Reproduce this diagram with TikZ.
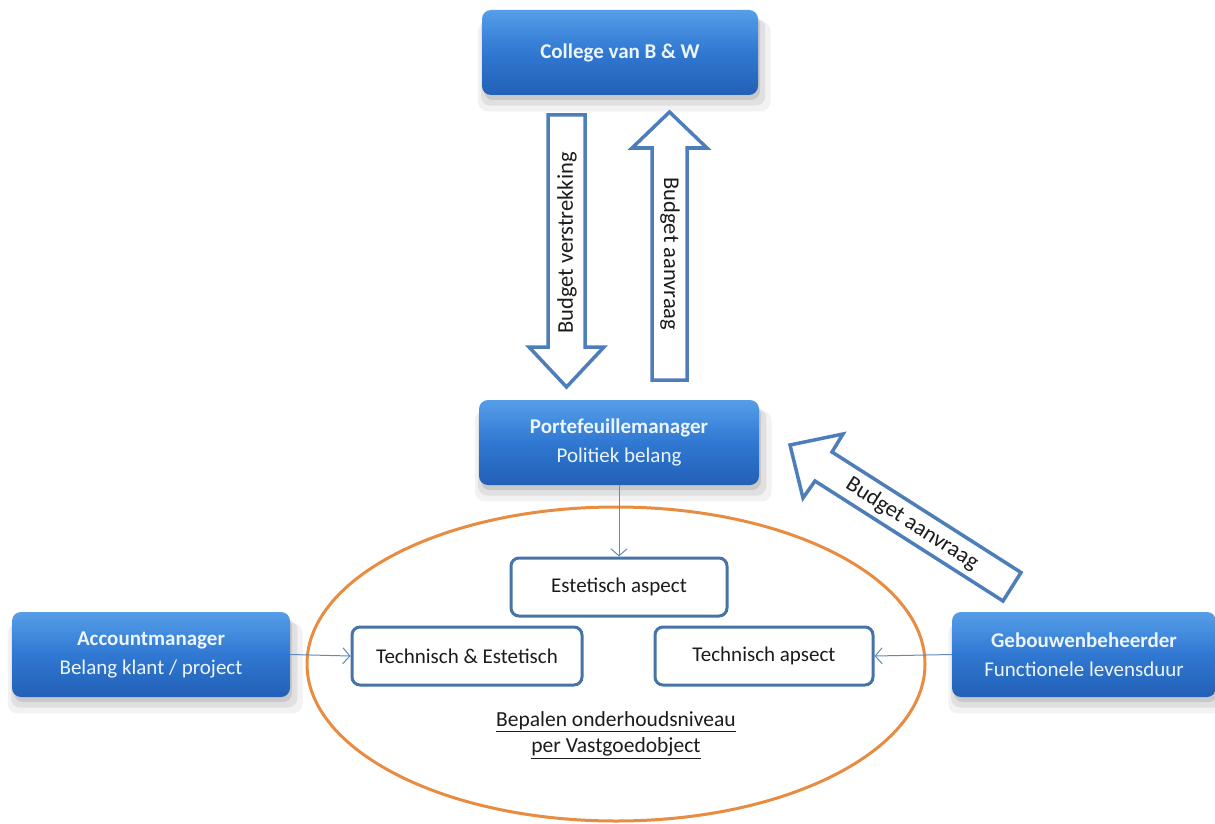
\documentclass[tikz,border=0pt]{standalone}
\usepackage{fontspec}
\setmainfont{Carlito}
\usetikzlibrary{arrows.meta,shadows}
\definecolor{bluetop}{RGB}{86,158,232}
\definecolor{bluemid}{RGB}{48,120,210}
\definecolor{bluebot}{RGB}{34,96,182}
\definecolor{boxline}{RGB}{70,116,166}
\definecolor{arrline}{RGB}{78,126,186}
\definecolor{orangeline}{RGB}{232,140,66}
\definecolor{conn}{RGB}{96,138,190}
\definecolor{txt}{RGB}{28,28,28}
\definecolor{btxt}{RGB}{236,244,252}
\begin{document}
\begin{tikzpicture}[x=1pt,y=-1pt,
  softshadow/.style={
    general shadow={fill=black, opacity=0.05, shadow xshift=4pt, shadow yshift=-13pt, shadow scale=1.06},
    general shadow={fill=black, opacity=0.07, shadow xshift=3pt, shadow yshift=-9pt, shadow scale=1.03},
    general shadow={fill=black, opacity=0.10, shadow xshift=2pt, shadow yshift=-5pt}},
  bluebox/.style={rectangle, rounded corners=9pt, top color=bluetop, bottom color=bluebot,
    middle color=bluemid, text=btxt, align=center, inner sep=0pt,
    font=\fontsize{21}{29}\selectfont, softshadow},
  aspect/.style={rectangle, rounded corners=8pt, draw=boxline, line width=3pt, fill=white,
    text=txt, font=\fontsize{21}{24}\selectfont, inner sep=0pt, minimum height=58pt},
  blockarrow/.style={draw=arrline, line width=3.5pt, fill=white, line join=miter},
  arrtext/.style={text=txt, font=\fontsize{22.5}{24}\selectfont, inner sep=0pt},
  connector/.style={draw=conn, line width=1pt, -{Straight Barb[length=7pt,width=16pt,line width=1pt]}}
]
\useasboundingbox (0,0) rectangle (1215,824);
\fill[white] (0,0) rectangle (1215,824);

% ellipse
\draw[orangeline, line width=3pt] (616,664) ellipse [x radius=309, y radius=157];

% blue boxes
\node[bluebox, minimum width=276pt, minimum height=85pt] (college) at (620,52.5) {\textbf{College van B \& W}};
\node[bluebox, minimum width=280pt, minimum height=85pt] (port) at (619,442.5) {\textbf{Portefeuillemanager}\\Politiek belang};
\node[bluebox, minimum width=278pt, minimum height=85pt] (acc) at (151,654.5) {\textbf{Accountmanager}\\Belang klant / project};
\node[bluebox, minimum width=264pt, minimum height=85pt] (geb) at (1084,654.5) {\textbf{Gebouwenbeheerder}\\Functionele levensduur};

% aspect boxes
\node[aspect, minimum width=216pt] (est) at (619,587) {Estetisch aspect};
\node[aspect, minimum width=230pt] (te) at (467,656) {Technisch \& Estetisch};
\node[aspect, minimum width=218pt] (ta) at (764,656) {Technisch apsect};

% bottom text
\node[text=txt, font=\fontsize{21.5}{26}\selectfont, align=center, inner sep=0pt] (bepalen) at (616,735)
  {\underline{Bepalen onderhoudsniveau}\\\underline{per Vastgoedobject}};

% block arrows
\draw[blockarrow] (548,115) -- (585,115) -- (585,347) -- (604,347) -- (566.5,387)
  -- (529,347) -- (548,347) -- cycle;
\node[arrtext, rotate=90] (verstr) at (567,243) {Budget verstrekking};
\draw[blockarrow] (652,380) -- (687,380) -- (687,148) -- (707,148) -- (669.5,112)
  -- (632,148) -- (652,148) -- cycle;
\node[arrtext, rotate=-90] (aanv1) at (670,254) {Budget aanvraag};
\draw[blockarrow] (790,445) -- (843,434) -- (832,452) -- (1021,572.5) -- (1003,601)
  -- (815,481) -- (803,498) -- cycle;
\node[arrtext, rotate=-32.6] (aanv2) at (912,524) {Budget aanvraag};

% connectors
\draw[connector] (port.south) -- (est.north);
\draw[connector] (acc.east) -- (te.west);
\draw[connector] (geb.west) -- (ta.east);
\end{tikzpicture}
\end{document}
